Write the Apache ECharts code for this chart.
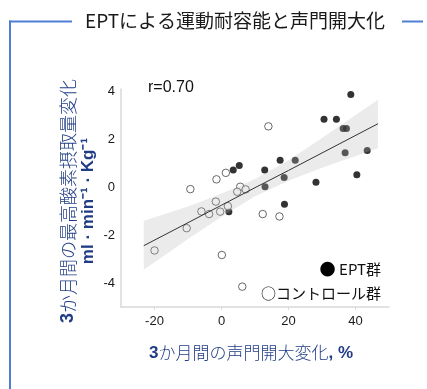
<!DOCTYPE html>
<html>
<head>
<meta charset="utf-8">
<script src="https://cdn.jsdelivr.net/npm/echarts@6/dist/echarts.min.js"></script>
<style>
html,body{margin:0;padding:0;background:#fff;}
#chart{width:427px;height:389px;}
</style>
</head>
<body>
<div id="chart"></div>
<script>
// EPT group (filled): [x = glottic opening change %, y = VO2peak change]
const eptGroup = [
  [3.5,0.72],[5.3,0.91],[12.9,0.72],[13.0,0.02],[17.5,1.13],[18.7,0.41],
  [18.8,-0.71],[22.0,1.13],[28.2,0.21],[30.6,2.84],[34.3,2.84],[36.3,2.45],
  [37.3,2.45],[36.9,1.44],[38.6,3.87],[40.4,0.52],[43.5,1.53],[2.2,-1.02]
];
// Control group (open)
const controlGroup = [
  [-9.3,-0.08],[-1.5,0.33],[1.3,0.60],[14.0,2.54],[5.6,0.02],[4.7,-0.19],
  [7.2,-0.09],[-1.7,-0.60],[1.9,-0.79],[-6.0,-1.01],[-3.7,-1.12],[-0.4,-1.02],
  [-10.4,-1.71],[-20.0,-2.64],[0.1,-2.83],[6.2,-4.15],[12.3,-1.12],[17.3,-1.22]
];
// Regression line and confidence band
const fitX = [-23.2, -10, 0, 10, 20, 30, 46.7];
const fitY = [-2.44, -1.48, -0.75, -0.02, 0.70, 1.43, 2.65];
const bandLower = [-3.45, -2.16, -1.23, -0.38, 0.27, 0.81, 1.63];
const bandUpper = [-1.40, -0.80, -0.27, 0.34, 1.13, 2.05, 3.65];
const xTicks = [-20, 0, 20, 40];
const yTicks = [-4, -2, 0, 2, 4];

const chart = echarts.init(document.getElementById('chart'));
const navy = '#1f3c84';
const fitLine = fitX.map((x, i) => [x, fitY[i]]);

chart.setOption({
  backgroundColor: '#fff',
  animation: false,
  grid: {left: 121, right: 38, top: 89, bottom: 82},
  xAxis: {
    type: 'value', min: -30, max: 50,
    axisLine: {show: true, onZero: false, lineStyle: {color: '#d9d9d9', width: 1.5}},
    axisTick: {show: true, length: 3, lineStyle: {color: '#d9d9d9'}, customValues: xTicks},
    axisLabel: {customValues: xTicks, color: '#1a1a1a', fontSize: 13, fontFamily: 'Liberation Sans', margin: 8},
    splitLine: {show: false}
  },
  yAxis: {
    type: 'value', min: -5, max: 4.1,
    axisLine: {show: true, onZero: false, lineStyle: {color: '#d9d9d9', width: 1.5}},
    axisTick: {show: false},
    axisLabel: {customValues: yTicks, color: '#1a1a1a', fontSize: 13, fontFamily: 'Liberation Sans', margin: 6},
    splitLine: {show: false}
  },
  series: [
    {
      type: 'scatter', name: 'EPT群', data: eptGroup, symbolSize: 7, z: 2,
      itemStyle: {color: '#000'}
    },
    {
      type: 'scatter', name: 'コントロール群', data: controlGroup, symbolSize: 7.5, z: 2,
      itemStyle: {color: '#fff', borderColor: '#444', borderWidth: 1}
    },
    {
      type: 'custom', z: 3, silent: true,
      data: [0],
      renderItem: function (params, api) {
        const pts = [];
        for (let i = 0; i < fitX.length; i++) pts.push(api.coord([fitX[i], bandUpper[i]]));
        for (let i = fitX.length - 1; i >= 0; i--) pts.push(api.coord([fitX[i], bandLower[i]]));
        return {type: 'polygon', shape: {points: pts}, style: {fill: 'rgba(182,182,182,0.28)'}};
      }
    },
    {
      type: 'line', data: fitLine, z: 4, symbol: 'none', smooth: false,
      lineStyle: {color: '#333', width: 1}
    }
  ],
  graphic: [
    {type: 'line', shape: {x1: 9, y1: 21.5, x2: 72, y2: 21.5}, style: {stroke: '#4f7fd3', lineWidth: 2}},
    {type: 'line', shape: {x1: 402, y1: 21.5, x2: 423, y2: 21.5}, style: {stroke: '#4f7fd3', lineWidth: 2}},
    {type: 'line', shape: {x1: 10, y1: 20.5, x2: 10, y2: 389}, style: {stroke: '#4f7fd3', lineWidth: 2}},
    {type: 'text', x: 235, y: 21, style: {text: 'EPTによる運動耐容能と声門開大化', fill: '#1a1a1a', font: '19px "Noto Sans CJK JP"', align: 'center', verticalAlign: 'middle'}},
    {type: 'text', x: 148, y: 88, style: {text: 'r=0.70', fill: '#111', font: '16px "Liberation Sans"', align: 'left', verticalAlign: 'middle'}},
    {type: 'text', x: 381, y: 269, style: {
      text: '{c|●} {t|EPT群}', align: 'right', verticalAlign: 'middle',
      rich: {
        c: {font: '19px "DejaVu Sans"', fill: '#000'},
        t: {font: '15px "Noto Sans CJK JP"', fill: '#111'}
      }
    }},
    {type: 'text', x: 381, y: 293, style: {text: '○コントロール群', fill: '#111', font: '15px "Noto Sans CJK JP"', align: 'right', verticalAlign: 'middle'}},
    {type: 'text', x: 251, y: 353, style: {
      text: '{b|3}{n|か月間の声門開大変化}{b|, %}', align: 'center', verticalAlign: 'middle',
      rich: {
        b: {font: 'bold 17px "Liberation Sans"', fill: navy},
        n: {font: '300 17px "Noto Sans CJK JP"', fill: navy}
      }
    }},
    {type: 'text', x: 68, y: 201, rotation: Math.PI / 2, style: {
      text: '{b|3}{n|か月間の最高酸素摂取量変化}', align: 'center', verticalAlign: 'middle',
      rich: {
        b: {font: 'bold 18px "Liberation Sans"', fill: navy},
        n: {font: '300 18px "Noto Sans CJK JP"', fill: navy}
      }
    }},
    {type: 'text', x: 88, y: 201, rotation: Math.PI / 2, style: {
      text: 'ml · min⁻¹ · Kg⁻¹', fill: navy, font: 'bold 17px "Liberation Sans"', align: 'center', verticalAlign: 'middle'
    }}
  ]
});
</script>
</body>
</html>
